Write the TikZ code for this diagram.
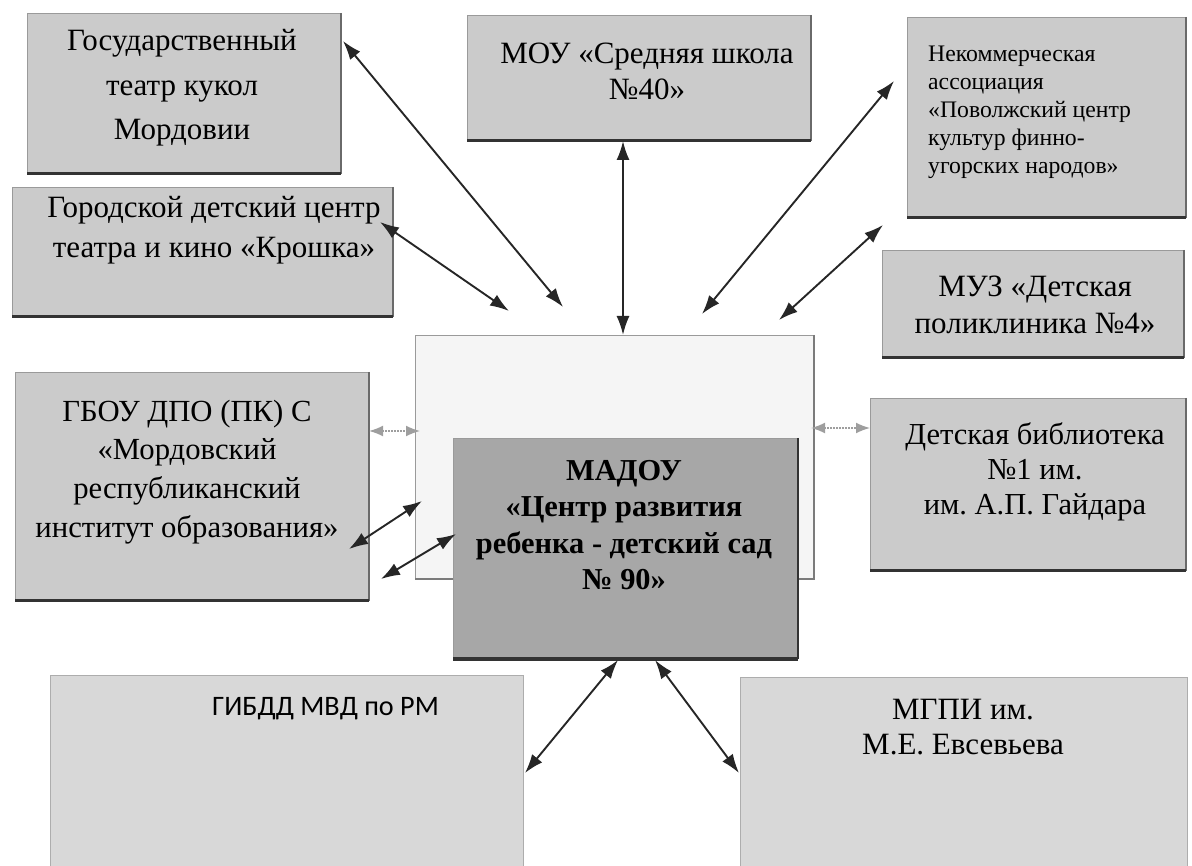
\documentclass[tikz,border=0pt]{standalone}
\usepackage{fontspec}
\setmainfont{Liberation Serif}
\newfontfamily\calibrifont{Carlito}
\usetikzlibrary{arrows.meta}
\frenchspacing
\definecolor{boxgray}{HTML}{CBCBCB}
\definecolor{centergray}{HTML}{A7A7A7}
\definecolor{lowgray}{HTML}{D8D8D8}
\definecolor{edgegray}{HTML}{9A9A9A}
\definecolor{shadowdark}{HTML}{333333}
\definecolor{shadowmid}{HTML}{6A6A6A}
\definecolor{arrowgray}{HTML}{9E9E9E}
\begin{document}
\begin{tikzpicture}[x=1pt,y=-1pt,
  box/.style={draw=edgegray, line width=0.8pt, fill=boxgray, inner sep=0pt, anchor=north west},
  lowbox/.style={draw=lowgray!80!black, line width=0.8pt, fill=lowgray, inner sep=0pt, anchor=north west},
  whitebox/.style={draw=edgegray, line width=0.8pt, fill=white!96!black, inner sep=0pt, anchor=north west},
  centerbox/.style={draw=edgegray, line width=0.8pt, fill=centergray, inner sep=0pt, anchor=north west},
  bottomedge/.style={draw=shadowdark, line width=3pt},
  rightedge/.style={draw=shadowmid, line width=2pt},
  txt/.style={align=center, inner sep=0pt, text=black},
  biarrow/.style={{Latex[length=19pt,width=13pt]}-{Latex[length=19pt,width=13pt]}, line width=1.9pt, draw=black!85},
  grayarrow/.style={{Latex[length=14pt,width=11pt]}-{Latex[length=14pt,width=11pt]}, line width=1.6pt, draw=arrowgray, dash pattern=on 2pt off 1pt}
]
\useasboundingbox (0,0) rectangle (1192,866);

% outer boxes
\node[box, minimum width=313pt, minimum height=160pt] (b1) at (27,13) {};
\node[box, minimum width=380pt, minimum height=129pt] (b2) at (12,187) {};
\node[box, minimum width=343pt, minimum height=125pt] (b3) at (467,15) {};
\node[box, minimum width=278pt, minimum height=200pt] (b4) at (907,17) {};
\node[box, minimum width=301pt, minimum height=107pt] (b5) at (882,250) {};
\node[box, minimum width=353pt, minimum height=228pt] (b6) at (15,372) {};
\node[box, minimum width=315pt, minimum height=172pt] (b7) at (870,398) {};
\node[lowbox, minimum width=473pt, minimum height=200pt] (b8) at (50,675) {};
\node[lowbox, minimum width=447pt, minimum height=200pt] (b9) at (740,677) {};

% central group
\node[whitebox, minimum width=398pt, minimum height=243pt] (wb) at (415,335) {};
\draw[draw=edgegray!80!black, line width=1.5pt] (wb.north east) -- (wb.south east) -- (wb.south west);
\node[centerbox, minimum width=344pt, minimum height=220pt] (cb) at (453,438) {};

% shadow edges
\foreach \n in {b1,b2,b3,b4,b5,b6,b7}{
  \draw[rightedge] (\n.north east) -- (\n.south east);
  \draw[bottomedge] (\n.south west) -- (\n.south east);
}
\draw[rightedge, draw=shadowdark, line width=2.5pt] (cb.north east) -- (cb.south east);
\draw[bottomedge, line width=4pt] (cb.south west) -- (cb.south east);

% texts
\node[txt, font=\fontsize{31}{44.5}\selectfont] (t1) at (182,88) {Государственный\\театр кукол\\Мордовии};
\node[txt, font=\fontsize{31}{40}\selectfont] (t2) at (214,230) {Городской детский центр\\театра и кино «Крошка»};
\node[txt, font=\fontsize{31}{36}\selectfont] (t3) at (647,71) {МОУ «Средняя школа\\№40»};
\node[txt, align=left, anchor=west, font=\fontsize{23.7}{28}\selectfont] (t4) at (928,112) {Некоммерческая\\ассоциация\\«Поволжский центр\\культур финно-\\угорских народов»};
\node[txt, font=\fontsize{31}{37}\selectfont] (t5) at (1035,305) {МУЗ «Детская\\поликлиника №4»};
\node[txt, font=\fontsize{30.7}{38.7}\selectfont] (t6) at (187,472) {ГБОУ ДПО (ПК) С\\«Мордовский\\республиканский\\институт образования»};
\node[txt, font=\fontsize{30.5}{35}\selectfont] (t7) at (1035,472) {Детская библиотека\\№1 им.\\им. А.П. Гайдара};
\node[txt, font=\fontsize{30.4}{36.3}\selectfont\bfseries] (t8) at (624,525) {МАДОУ\\«Центр развития\\ребенка - детский сад\\№ 90»};
\node[txt, anchor=base west, font=\calibrifont\fontsize{28.2}{34}\selectfont] (t9) at (212,715) {ГИБДД МВД по РМ};
\node[txt, font=\fontsize{31}{35}\selectfont] (t10) at (963,727) {МГПИ им.\\М.Е. Евсевьева};

% arrow end points
\coordinate (a1s) at (343,41);  \coordinate (a1e) at (563,307);
\coordinate (a2s) at (380,222); \coordinate (a2e) at (509,311);
\coordinate (a3s) at (623,141); \coordinate (a3e) at (623,335);
\coordinate (a4s) at (894,81);  \coordinate (a4e) at (702,314);
\coordinate (a5s) at (883,225); \coordinate (a5e) at (779,320);
\coordinate (g1s) at (369,431); \coordinate (g1e) at (420,431);
\coordinate (g2s) at (811,428); \coordinate (g2e) at (870,428);
\coordinate (a6s) at (349,549); \coordinate (a6e) at (422,501);
\coordinate (a7s) at (381,579); \coordinate (a7e) at (456,534);
\coordinate (a8s) at (618,660); \coordinate (a8e) at (525,773);
\coordinate (a9s) at (655,660); \coordinate (a9e) at (739,773);

\draw[biarrow] (a1s) -- (a1e);
\draw[biarrow] (a2s) -- (a2e);
\draw[biarrow] (a3s) -- (a3e);
\draw[biarrow] (a4s) -- (a4e);
\draw[biarrow] (a5s) -- (a5e);
\draw[grayarrow] (g1s) -- (g1e);
\draw[grayarrow] (g2s) -- (g2e);
\draw[biarrow] (a6s) -- (a6e);
\draw[biarrow] (a7s) -- (a7e);
\draw[biarrow] (a8s) -- (a8e);
\draw[biarrow] (a9s) -- (a9e);
\end{tikzpicture}
\end{document}
